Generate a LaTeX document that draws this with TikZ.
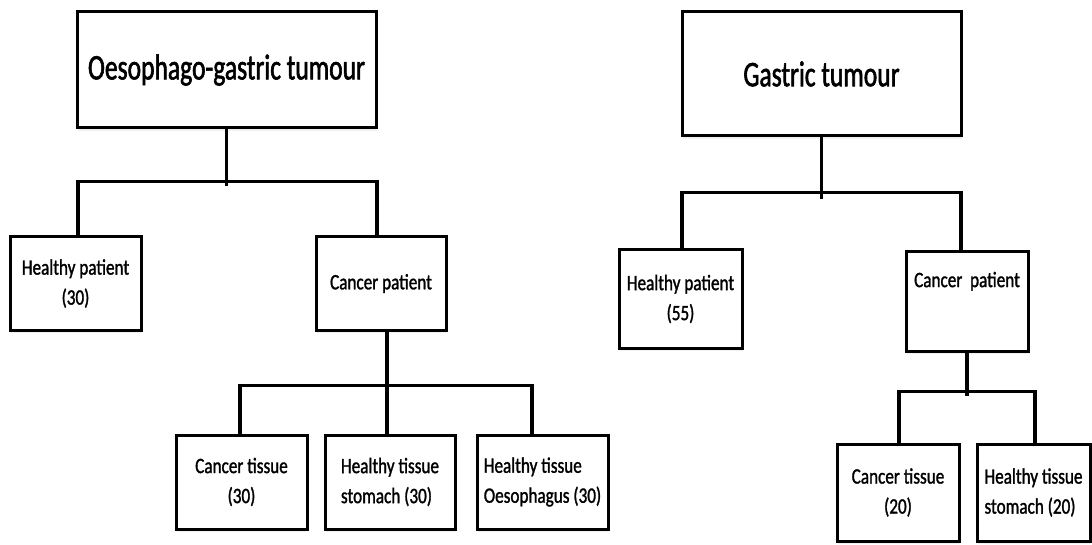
\documentclass[tikz,border=0pt]{standalone}
\usepackage{fontspec}
\setmainfont{Carlito}
\newfontfamily\titlefont[FakeStretch=0.71, FakeBold=1.6]{Carlito}
\newfontfamily\boxfont[FakeStretch=0.78, FakeBold=1.3]{Carlito}
\usetikzlibrary{shadows}
\begin{document}
\begin{tikzpicture}[x=1pt,y=-1pt,
  box/.style={draw, line width=3pt, fill=white, inner sep=0pt,
    drop shadow={opacity=0.12, shadow xshift=1pt, shadow yshift=-3pt},
    font=\boxfont\fontsize{22}{30}\selectfont, align=center},
  titlebox/.style={box, font=\titlefont\fontsize{36}{42}\selectfont},
  conn/.style={line width=3.6pt, line cap=rect}]
\useasboundingbox (0,0) rectangle (1092,545);
% left tree
\node[titlebox, minimum width=299pt, minimum height=116pt] (T1) at (226.5,70) {Oesophago-gastric tumour};
\node[box, minimum width=131pt, minimum height=93pt] (HP1) at (75.5,283.5) {Healthy patient\\(30)};
\node[box, minimum width=130pt, minimum height=93pt] (CP1) at (381,283.5) {Cancer patient};
\node[box, minimum width=131pt, minimum height=94pt] (CT1) at (241.5,482) {Cancer tissue\\(30)};
\node[box, minimum width=130pt, minimum height=94pt, align=left] (HS1) at (390,482) {Healthy tissue\\stomach (30)};
\node[box, minimum width=131pt, minimum height=94pt, align=left] (HO1) at (542.5,482) {Healthy tissue\\Oesophagus (30)};
% right tree
\node[titlebox, minimum width=279pt, minimum height=124pt] (T2) at (821.5,74) {Gastric tumour};
\node[box, minimum width=123pt, minimum height=98pt] (HP2) at (680.5,299) {Healthy patient\\(55)};
\node[box, minimum width=122pt, minimum height=99pt] (CP2) at (967,301.5) {Cancer\ \ patient\\[14pt]\mbox{}};
\node[box, minimum width=122pt, minimum height=97pt] (CT2) at (898,492.5) {Cancer tissue\\(20)};
\node[box, minimum width=113pt, minimum height=97pt, align=left] (HS2) at (1033.5,492.5) {Healthy tissue\\stomach (20)};
% connectors left
\draw[conn] (T1.south) -- ++(0,55);
\draw[conn] ([xshift=2.5pt]HP1.north) -- ++(0,-54) -| ([xshift=-4pt]CP1.north);
\draw[conn] ([xshift=6pt]CP1.south) -- ([xshift=-3pt]HS1.north);
\draw[conn] ([xshift=-1.5pt]CT1.north) -- ++(0,-48) -| ([xshift=-10.5pt]HO1.north);
% connectors right
\draw[conn] (T2.south) -- ++(0,60);
\draw[conn] ([xshift=1.5pt]HP2.north) -- ++(0,-56) -| ([xshift=-6pt]CP2.north);
\draw[conn] (CP2.south) -- ++(0,42);
\draw[conn] ([xshift=1pt]CT2.north) -- ++(0,-51) -| ([xshift=1.5pt]HS2.north);
\end{tikzpicture}
\end{document}
